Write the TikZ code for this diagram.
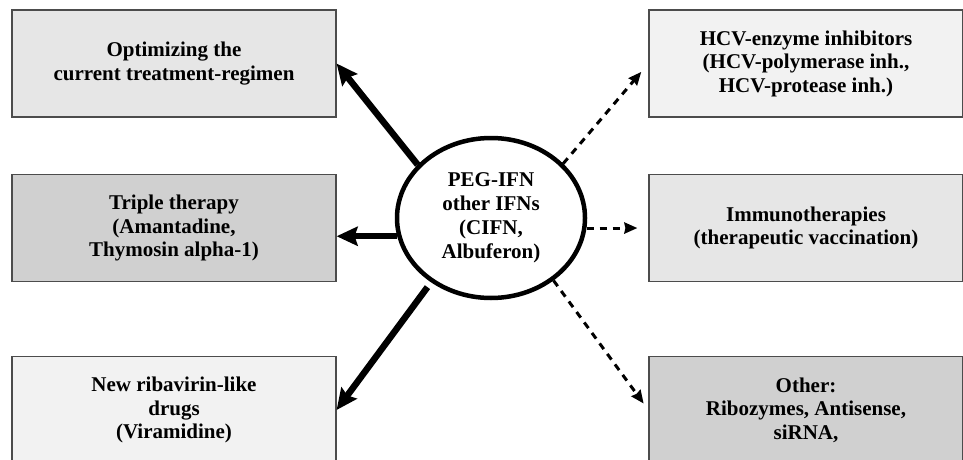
\documentclass[tikz,border=0pt]{standalone}
\usepackage{fontspec}
\setmainfont{Liberation Serif}
\usepackage{xcolor}
\usetikzlibrary{arrows.meta,shapes.geometric}
\definecolor{shadeA}{HTML}{E6E6E6}
\definecolor{shadeB}{HTML}{D0D0D0}
\definecolor{shadeC}{HTML}{F2F2F2}
\begin{document}
\begin{tikzpicture}[x=1pt,y=-1pt,
    box/.style={draw=black!70,line width=1.2pt,rectangle,align=center,
        minimum height=107pt,inner sep=0pt,
        font=\fontsize{21}{23.5}\selectfont\bfseries},
    leftbox/.style={box,minimum width=324pt},
    rightbox/.style={box,minimum width=314pt},
    hubnode/.style={draw,ellipse,line width=4.5pt,minimum width=188pt,minimum height=160pt,
        inner sep=0pt,align=center,font=\fontsize{21}{24}\selectfont\bfseries},
    solidarrow/.style={line width=6.5pt,-{Stealth[length=21pt,width=19pt,inset=3pt]}},
    dasharrow/.style={line width=3pt,dash pattern=on 7pt off 6pt,
        -{Stealth[length=13pt,width=11pt,inset=1pt]}}]
        \clip (0,0) rectangle (963,460);
        \node[leftbox,fill=shadeA] (opt) at (174,63.5) {Optimizing the\\current treatment-regimen};
        \node[leftbox,fill=shadeB] (triple) at (174,228) {Triple therapy\\(Amantadine,\\Thymosin alpha-1)};
        \node[leftbox,fill=shadeC] (ribav) at (174,410) {New ribavirin-like\\drugs\\(Viramidine)};
        \node[rightbox,fill=shadeC] (hcv) at (806,63.5) {HCV-enzyme inhibitors\\(HCV-polymerase inh.,\\HCV-protease inh.)};
        \node[rightbox,fill=shadeA] (immuno) at (806,228) {Immunotherapies\\(therapeutic vaccination)};
        \node[rightbox,fill=shadeB] (other) at (806,410) {Other:\\Ribozymes, Antisense,\\siRNA,};
        \node[hubnode] (peg) at (491,218) {PEG-IFN\\other IFNs\\(CIFN,\\Albuferon)};
        \draw[solidarrow] (peg.144) -- (opt.east);
        \draw[solidarrow] (peg.191) -- (peg.191 -| triple.east);
        \draw[solidarrow,shorten <=6pt] (peg.227) -- (ribav.east);
        \draw[dasharrow,shorten >=11pt] (peg.37) -- (hcv.west);
        \draw[dasharrow,shorten >=11pt] (peg.354) -- (peg.354 -| immuno.west);
        \draw[dasharrow,shorten >=8pt] (peg.315) -- (other.west);
    \end{tikzpicture}
\end{document}
